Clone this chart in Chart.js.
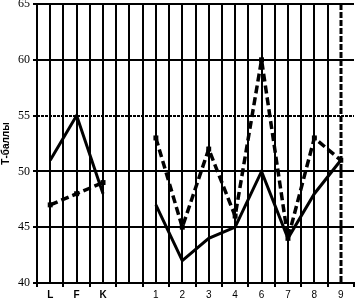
<!DOCTYPE html>
<html>
<head>
<meta charset="utf-8">
<script src="https://cdn.jsdelivr.net/npm/chart.js@4/dist/chart.umd.min.js"></script>
<style>
html,body{margin:0;padding:0;background:#fff;}
#wrap{width:358px;height:301px;position:relative;}
</style>
</head>
<body>
<div id="wrap"><canvas id="c" width="358" height="301"></canvas></div>
<script>
const categories = ['L','F','K','','1','2','3','4','6','7','8','9'];
const solidSeries = [51,55,48,null,47,42,44,45,50,44,48,51];
const dashedSeries = [47,48,49,null,53,45,52,46,60,44,53,51];
const yTicks = [40,45,50,55,60,65];
const yTitle = 'Т-баллы';
const dashedGridY = 55;
const dashedGridX = 11;

function pts(arr){ return arr.map((v,i)=>({x:i,y:v})); }

const dashedGridPlugin = {
  id:'dashedGrid',
  beforeDatasetsDraw(chart){
    const ctx = chart.ctx, a = chart.chartArea;
    const xs = chart.scales.x, ys = chart.scales.y;
    ctx.save();
    ctx.strokeStyle = '#000';
    ctx.lineWidth = 2;
    ctx.setLineDash([3,1]);
    const py = Math.round(ys.getPixelForValue(dashedGridY));
    ctx.beginPath(); ctx.moveTo(a.left, py); ctx.lineTo(a.right, py); ctx.stroke();
    ctx.setLineDash([6,2]);
    ctx.lineWidth = 3;
    const px = Math.round(xs.getPixelForValue(dashedGridX));
    ctx.beginPath(); ctx.moveTo(px, a.top); ctx.lineTo(px, a.bottom); ctx.stroke();
    ctx.restore();
  }
};

new Chart(document.getElementById('c'), {
  type:'line',
  data:{
    datasets:[
      {data:pts(solidSeries), borderColor:'#000', borderWidth:3, pointRadius:0, spanGaps:false, tension:0, borderJoinStyle:'miter'},
      {data:pts(dashedSeries), borderColor:'#000', borderWidth:3.5, borderDash:[8,4], pointStyle:'rect', pointRadius:3.5, pointBackgroundColor:'#000', pointBorderColor:'#000', pointBorderWidth:0, spanGaps:false, tension:0}
    ]
  },
  options:{
    responsive:false,
    animation:false,
    devicePixelRatio:1,
    layout:{padding:{top:4,right:0,left:0,bottom:0}},
    plugins:{legend:{display:false},tooltip:{enabled:false}},
    scales:{
      x:{
        type:'linear', min:-0.5, max:11.5,
        afterBuildTicks(s){ const t=[]; for(let v=-0.5; v<=11.5; v+=0.5) t.push({value:v}); s.ticks=t; },
        afterFit(s){ s.height = 18; s.paddingLeft=0; s.paddingRight=0; },
        ticks:{
          autoSkip:false, maxRotation:0, padding:2, color:'#000',
          font:(c)=> (c.tick && c.tick.value < 3) ? {family:'Liberation Sans, Arial', size:10, weight:'bold'} : {family:'Liberation Sans, Arial', size:10},
          callback:(v)=> Number.isInteger(v) ? categories[v] : ''
        },
        grid:{
          lineWidth:2,
          color:(c)=>{ const v=c.tick && c.tick.value; return (v===dashedGridX || v===11.5 || v===-0.5) ? 'rgba(0,0,0,0)' : '#000'; },
          tickColor:(c)=>{ const v=c.tick && c.tick.value; return Number.isInteger(v) ? 'rgba(0,0,0,0)' : '#000'; },
          tickLength:4, tickWidth:2
        },
        border:{display:true, color:'#000', width:2}
      },
      y:{
        min:40, max:65,
        afterBuildTicks(s){ s.ticks = yTicks.map(v=>({value:v})); },
        afterFit(s){ s.width = 37; s.paddingTop=0; s.paddingBottom=0; },
        title:{display:true, text:yTitle, color:'#000', font:{family:'Liberation Sans, Arial', size:10, weight:'bold'}, padding:{top:0,bottom:2}},
        ticks:{color:'#000', padding:3, font:{family:'Liberation Serif, Times New Roman', size:12}},
        grid:{
          lineWidth:2,
          color:(c)=>{ const v=c.tick && c.tick.value; return (v===dashedGridY || v===40) ? 'rgba(0,0,0,0)' : '#000'; },
          tickColor:'#000', tickLength:4, tickWidth:2
        },
        border:{display:true, color:'#000', width:2}
      }
    }
  },
  plugins:[dashedGridPlugin]
});
</script>
</body>
</html>
